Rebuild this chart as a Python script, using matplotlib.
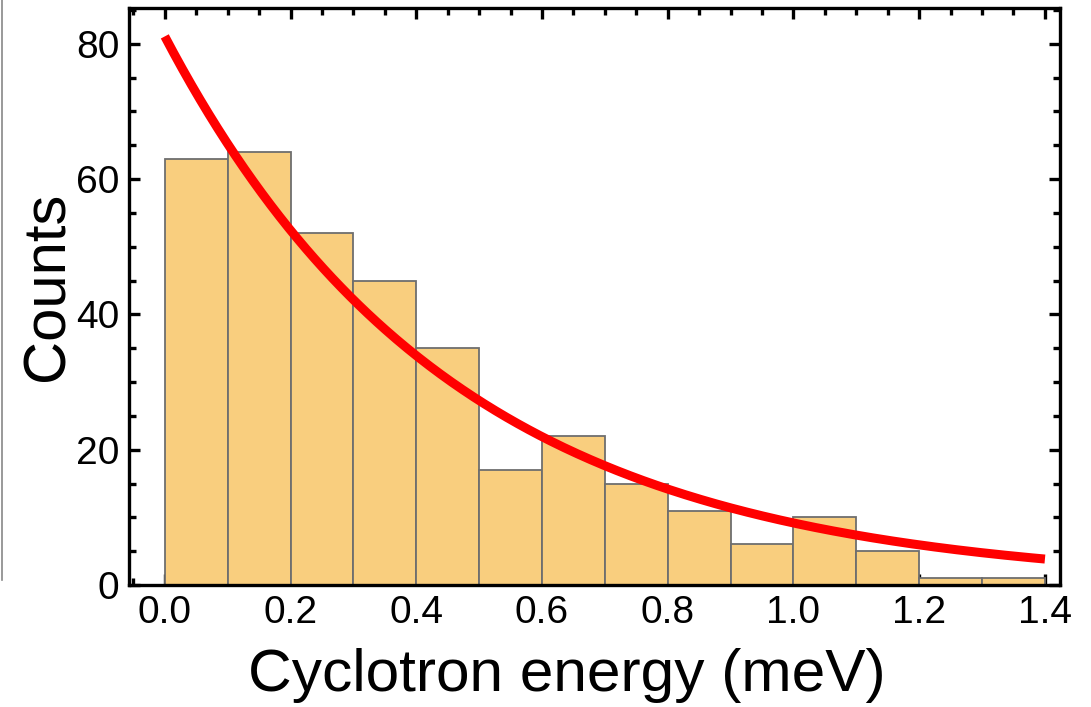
import numpy as np
import matplotlib
matplotlib.use("Agg")
import matplotlib.pyplot as plt
from matplotlib.ticker import MultipleLocator, FormatStrFormatter
from matplotlib.lines import Line2D

plt.rcParams['font.family'] = ['Liberation Sans', 'DejaVu Sans']

# Histogram data
bin_edges = [0.0, 0.1, 0.2, 0.3, 0.4, 0.5, 0.6, 0.7, 0.8, 0.9, 1.0, 1.1, 1.2, 1.3, 1.4]
counts = [63, 64, 52, 45, 35, 17, 22, 15, 11, 6, 10, 5, 1, 1]

# Exponential fit parameters
fit_amplitude = 81.1
fit_decay = 2.18
fit_range = (0.0, 1.4)

fig = plt.figure(figsize=(10.91, 7.07), dpi=100)
ax = fig.add_axes([0.1182, 0.1726, 0.9716 - 0.1182, 0.9887 - 0.1726])

edges = np.array(bin_edges)
ax.bar(edges[:-1], counts, width=np.diff(edges), align='edge',
       color='#F9CE7E', edgecolor='#6e6e6e', linewidth=1.3, zorder=2)

xf = np.linspace(fit_range[0], fit_range[1], 400)
ax.plot(xf, fit_amplitude * np.exp(-fit_decay * xf), color='#FF0000',
        linewidth=6.5, solid_capstyle='butt', zorder=3)

ax.set_xlim(-0.057, 1.424)
ax.set_ylim(0, 85.3)

ax.xaxis.set_major_locator(MultipleLocator(0.2))
ax.xaxis.set_minor_locator(MultipleLocator(0.05))
ax.xaxis.set_major_formatter(FormatStrFormatter('%.1f'))
ax.yaxis.set_major_locator(MultipleLocator(20))
ax.yaxis.set_minor_locator(MultipleLocator(5))

ax.tick_params(which='both', direction='in', top=True, right=True,
               labeltop=False, labelright=False, width=2.4, color='black')
ax.tick_params(which='major', length=8, labelsize=28, pad=7)
ax.tick_params(which='minor', length=5)

for s in ax.spines.values():
    s.set_linewidth(2.4)
    s.set_color('black')

ax.set_xlabel('Cyclotron energy (meV)', fontsize=43.5)
ax.set_ylabel('Counts', fontsize=43)
ax.xaxis.set_label_coords(0.4705, -0.109)
ax.yaxis.set_label_coords(-0.057, 0.518)

# thin grey line at the left edge of the image
fig.add_artist(Line2D([0.0015, 0.0015], [1 - 580 / 707, 1.0], color='#888888',
                      linewidth=1.2, transform=fig.transFigure))

fig.savefig('out.png', dpi=100)
